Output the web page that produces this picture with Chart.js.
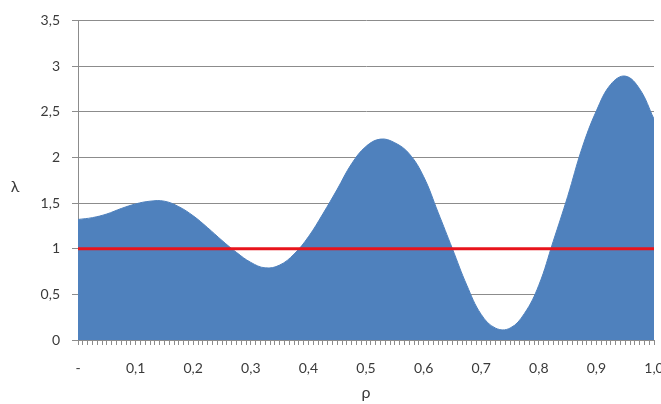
<!DOCTYPE html>
<html>
<head>
<meta charset="utf-8">
<script src="https://cdn.jsdelivr.net/npm/chart.js@4"></script>
<style>
    body { margin: 0; background: #fff; }
    #wrap { width: 661px; height: 404px; position: relative; }
</style>
</head>
<body>
<div id="wrap"><canvas id="chart"></canvas></div>
<script>
// values
const rhoValues = [0, 0.025, 0.05, 0.075, 0.1, 0.125, 0.15, 0.175, 0.2, 0.225,
    0.25, 0.275, 0.3, 0.325, 0.35, 0.375, 0.4, 0.425, 0.45, 0.475,
    0.5, 0.525, 0.55, 0.575, 0.6, 0.625, 0.65, 0.675, 0.7, 0.725,
    0.75, 0.775, 0.8, 0.825, 0.85, 0.875, 0.9, 0.925, 0.95, 0.975, 1];
const lambdaValues = [1.32, 1.34, 1.38, 1.44, 1.49, 1.52, 1.52, 1.46, 1.36, 1.23,
    1.09, 0.96, 0.85, 0.79, 0.82, 0.94, 1.13, 1.38, 1.65, 1.93,
    2.12, 2.20, 2.16, 2.04, 1.79, 1.40, 1.00, 0.60, 0.28, 0.13,
    0.13, 0.29, 0.60, 1.08, 1.57, 2.10, 2.51, 2.80, 2.89, 2.75, 2.42];
const thresholdValue = 1;

const xTickLabels = ['-', '0,1', '0,2', '0,3', '0,4', '0,5', '0,6', '0,7', '0,8', '0,9', '1,0'];
const yTickLabels = ['0', '0,5', '1', '1,5', '2', '2,5', '3', '3,5'];
const minorTicksPerLabel = 12;

const textColor = '#3a3a3a';
const gridColor = '#8c8c8c';
const fontFamily = 'Lato, "Open Sans", sans-serif';

const areaPoints = rhoValues.map((r, i) => ({ x: r, y: lambdaValues[i] }));
const linePoints = rhoValues.map(r => ({ x: r, y: thresholdValue }));

// lambda label stays upright like in the original
const yTitlePlugin = {
    id: 'yTitle',
    afterDraw(chart) {
        const ctx = chart.ctx;
        const y = chart.scales.y;
        ctx.save();
        ctx.fillStyle = textColor;
        ctx.font = '16px ' + fontFamily;
        ctx.textAlign = 'center';
        ctx.textBaseline = 'middle';
        ctx.fillText('λ', 15, (y.top + y.bottom) / 2 + 7);
        ctx.restore();
    }
};

new Chart(document.getElementById('chart'), {
    type: 'line',
    data: {
        datasets: [{
            label: 'threshold',
            data: linePoints,
            borderColor: '#e8141c',
            borderWidth: 3,
            pointRadius: 0,
            fill: false,
            order: 0
        }, {
            label: 'lambda',
            data: areaPoints,
            backgroundColor: '#4f81bd',
            borderColor: '#4f81bd',
            borderWidth: 1,
            pointRadius: 0,
            fill: 'origin',
            tension: 0.4,
            order: 1
        }]
    },
    options: {
        responsive: true,
        maintainAspectRatio: false,
        animation: false,
        layout: { padding: { left: 0, right: 7, top: 17, bottom: 0 } },
        plugins: {
            legend: { display: false },
            tooltip: { enabled: false }
        },
        scales: {
            x: {
                type: 'linear',
                min: 0,
                max: 1,
                afterBuildTicks(scale) {
                    const n = (xTickLabels.length - 1) * minorTicksPerLabel;
                    scale.ticks = [];
                    for (let i = 0; i <= n; i++) scale.ticks.push({ value: i / n });
                },
                afterFit(scale) {
                    scale.height = 64;
                    scale.paddingLeft = 0;
                    scale.paddingRight = 0;
                },
                ticks: {
                    autoSkip: false,
                    maxRotation: 0,
                    padding: 15,
                    color: textColor,
                    font: { family: fontFamily, size: 14 },
                    callback: (v, i) => i % minorTicksPerLabel === 0 ? xTickLabels[i / minorTicksPerLabel] : ''
                },
                grid: {
                    drawOnChartArea: false,
                    drawTicks: true,
                    tickLength: 5,
                    color: gridColor
                },
                border: { color: gridColor },
                title: {
                    display: true,
                    text: 'ρ',
                    color: textColor,
                    font: { family: fontFamily, size: 16 },
                    padding: { top: 0, bottom: 2 }
                }
            },
            y: {
                min: 0,
                max: 3.5,
                afterFit(scale) {
                    scale.width = 78;
                },
                ticks: {
                    stepSize: 0.5,
                    padding: 12,
                    color: textColor,
                    font: { family: fontFamily, size: 14 },
                    callback: (v, i) => yTickLabels[i]
                },
                grid: {
                    color: gridColor,
                    tickLength: 6
                },
                border: { color: gridColor }
            }
        }
    },
    plugins: [yTitlePlugin]
});
</script>
</body>
</html>
